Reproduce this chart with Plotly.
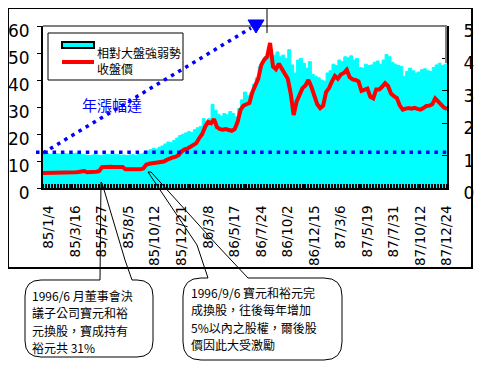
import plotly.graph_objects as go

# ---------------- data ----------------
tick_labels = ["85/1/4", "85/3/16", "85/5/27", "85/8/5", "85/10/12", "85/12/21",
               "86/3/8", "86/5/17", "86/7/24", "86/10/2", "86/12/15", "87/3/6",
               "87/5/19", "87/7/31", "87/10/12", "87/12/24"]
tick_index = [2, 11, 20, 29, 38, 47, 56, 65, 74, 83, 92, 101, 110, 119, 128, 137]

close_price = [
    5.6, 5.6, 5.5, 5.6, 5.6, 5.7, 5.6, 5.6, 5.7, 5.7,
    5.7, 5.8, 5.9, 6.0, 6.3, 5.8, 5.8, 5.9, 6.0, 6.2,
    7.7, 7.8, 8.0, 7.9, 7.8, 7.9, 7.9, 7.8, 6.9, 6.9,
    6.8, 6.9, 6.9, 6.9, 7.2, 8.6, 9.0, 9.1, 9.2, 9.3,
    9.4, 9.8, 10.4, 11.0, 11.3, 11.6, 12.2, 13.5, 14.3, 14.6,
    15.2, 15.9, 16.6, 18.5, 20.0, 22.7, 24.5, 24.0, 25.5, 22.5,
    21.8, 21.6, 21.8, 21.5, 21.2, 21.8, 24.5, 29.0, 30.5, 31.0,
    31.5, 35.5, 37.8, 40.5, 45.5, 47.5, 48.6, 53.7, 45.0, 44.0,
    46.0, 44.0, 42.5, 40.5, 35.0, 27.0, 32.0, 35.0, 37.0, 38.0,
    40.0, 37.5, 34.0, 31.0, 29.6, 30.5, 35.5, 37.0, 39.5, 41.5,
    40.5, 42.0, 42.6, 43.8, 41.0, 40.2, 40.0, 39.5, 36.0, 36.5,
    36.8, 33.8, 33.2, 36.5, 36.5, 37.5, 38.8, 37.8, 35.0, 34.0,
    33.3, 30.5, 29.0, 29.4, 29.6, 29.4, 29.7, 29.3, 29.0, 29.6,
    30.4, 30.5, 31.0, 33.2, 31.9, 30.6, 29.8, 29.3]

rel_strength = [
    1.05, 1.06, 1.04, 1.05, 1.06, 1.05, 1.04, 1.06, 1.05, 1.07,
    1.06, 1.08, 1.05, 1.03, 1.02, 1.00, 1.01, 1.03, 1.02, 1.00,
    1.02, 1.04, 1.03, 1.02, 1.04, 1.03, 1.01, 1.02, 1.00, 1.02,
    1.03, 1.01, 1.04, 1.05, 1.10, 1.14, 1.18, 1.22, 1.20, 1.26,
    1.30, 1.36, 1.42, 1.40, 1.47, 1.54, 1.62, 1.66, 1.70, 1.74,
    1.72, 1.80, 1.86, 1.90, 2.14, 2.05, 2.15, 2.58, 2.40, 2.28,
    2.22, 2.30, 2.26, 2.36, 2.30, 2.20, 2.45, 2.72, 2.96, 2.85,
    2.93, 3.20, 3.40, 3.75, 3.90, 4.05, 4.05, 3.95, 4.10, 4.20,
    4.05, 4.10, 4.00, 4.27, 3.80, 3.55, 3.95, 4.00, 3.85, 3.70,
    3.90, 3.50, 3.45, 3.40, 3.33, 3.30, 3.55, 3.62, 3.82, 3.78,
    3.95, 3.90, 4.05, 4.02, 4.08, 3.95, 4.00, 3.72, 3.70, 3.82,
    3.78, 3.80, 3.88, 3.92, 3.82, 3.95, 4.12, 4.05, 3.88, 3.82,
    3.78, 3.75, 3.45, 3.60, 3.70, 3.62, 3.55, 3.58, 3.65, 3.68,
    3.62, 3.60, 3.72, 3.80, 3.85, 3.78, 3.82, 3.88]

base_level = 1.1          # 水平基準線 (右軸)
series_names = ["相對大盤強弱勢", "收盤價"]

note1_lines = ["1996/6 月董事會決", "議子公司寶元和裕", "元換股，寶成持有", "裕元共 31%"]
note2_lines = ["1996/9/6 寶元和裕元完", "成換股，往後每年增加", "5%以內之股權，爾後股", "價因此大受激勵"]
note3 = "年漲幅達"

idx = list(range(len(close_price)))

# ---------------- geometry helpers (screen pixel -> paper) ----------------
# The page body has an 8px default margin, so the figure is drawn 8px to the
# right of / below the window origin; the figure size and margins compensate.
PAGE_OFF = 8
WIN_W, WIN_H = 484, 365
W, H = WIN_W - PAGE_OFF, WIN_H - PAGE_OFF
L, R, T, B = 43, 447, 26, 188      # plot area in window pixels


def X(p):
    return (p - L) / (R - L)


def Y(p):
    return (B - p) / (B - T)


def path(cmds):
    out = []
    for c in cmds:
        op = c[0]
        if op == "Z":
            out.append("Z")
        else:
            pts = c[1:]
            coords = " ".join(f"{X(pts[i]):.5f},{Y(pts[i+1]):.5f}" for i in range(0, len(pts), 2))
            out.append(f"{op}{coords}")
    return " ".join(out)


def pshape(d, color="black", width=1, fill="rgba(0,0,0,0)"):
    return dict(type="path", xref="paper", yref="paper", path=d,
                line=dict(color=color, width=width), fillcolor=fill)


def seg(x0, y0, x1, y1, color="black", width=1, dash="solid"):
    return dict(type="line", xref="paper", yref="paper",
                x0=X(x0), y0=Y(y0), x1=X(x1), y1=Y(y1),
                line=dict(color=color, width=width, dash=dash))


def rect(x0, y0, x1, y1, color="black", width=1, fill="rgba(0,0,0,0)"):
    return dict(type="rect", xref="paper", yref="paper",
                x0=X(x0), y0=Y(y0), x1=X(x1), y1=Y(y1),
                line=dict(color=color, width=width), fillcolor=fill)


# ---------------- figure ----------------
fig = go.Figure()
fig.add_trace(go.Scatter(
    x=idx, y=rel_strength, yaxis="y", mode="lines", name=series_names[0],
    line=dict(color="#00FFFF", width=1, shape="hv"),
    fill="tozeroy", fillcolor="#00FFFF", showlegend=False, hoverinfo="skip"))
fig.add_trace(go.Scatter(
    x=idx, y=close_price, yaxis="y2", mode="lines", name=series_names[1],
    line=dict(color="#FF0000", width=4), showlegend=False, hoverinfo="skip"))

BLUE = "#0000FF"
shapes = [
    # outer frame
    rect(8, 8, 472, 268, width=2),
    # gray top / right frame of plot area
    seg(43, 26, 447, 26, color="#808080", width=2),
    seg(446, 26, 446, 63, color="#808080", width=2),
    # legend
    rect(48, 33, 183, 80, width=1, fill="white"),
    rect(62, 42, 94, 48, width=2, fill="#00FFFF"),
    seg(62, 62, 94, 62, color="#FF0000", width=4),
    # horizontal dotted base line (right axis value)
    dict(type="line", xref="paper", yref="y", x0=X(36), x1=1.0,
         y0=base_level, y1=base_level,
         line=dict(color=BLUE, width=3.5, dash="3.5px,4.8px")),
    # diagonal dotted line
    seg(43, 153, 251, 28, color=BLUE, width=3.5, dash="3.5px,4.8px"),
    # triangle
    pshape(path([("M", 248, 20), ("L", 264, 20), ("L", 256, 33), ("Z",)]),
           color=BLUE, width=1, fill=BLUE),
    # small vertical pointer at top
    seg(267, 8, 267, 33, width=1),
    # callout bubble 1 (with tail)
    pshape(path([("M", 100, 280), ("L", 101, 182), ("L", 102, 183), ("L", 125, 260),
                 ("L", 132, 280), ("L", 137, 280), ("Q", 153, 280, 153, 296),
                 ("L", 153, 341), ("Q", 153, 357, 137, 357), ("L", 41, 357),
                 ("Q", 25, 357, 25, 341), ("L", 25, 296), ("Q", 25, 280, 41, 280),
                 ("Z",)])),
    # callout bubble 2 (with tail)
    pshape(path([("M", 208, 278), ("L", 197, 245), ("L", 148, 172), ("L", 151, 172),
                 ("L", 217, 245), ("L", 248, 278), ("L", 324, 278),
                 ("Q", 342, 278, 342, 296), ("L", 342, 342), ("Q", 342, 360, 324, 360),
                 ("L", 201, 360), ("Q", 183, 360, 183, 342), ("L", 183, 296),
                 ("Q", 183, 278, 201, 278), ("Z",)])),
]

CJK = "Noto Sans CJK TC, Noto Sans CJK SC, sans-serif"


def label(x, y, text, size=12, color="black", anchor="left"):
    return dict(xref="paper", yref="paper", x=X(x), y=Y(y), text=text,
                showarrow=False, xanchor=anchor, yanchor="middle",
                borderpad=0, borderwidth=0,
                font=dict(family=CJK, size=size, color=color))


annotations = [
    label(97, 52, series_names[0]),
    label(97, 69, series_names[1]),
    label(112, 105, note3, size=15, color=BLUE, anchor="center"),
]
for i, t in enumerate(note1_lines):
    annotations.append(label(32, 295 + 17.5 * i, t, size=12))
for i, t in enumerate(note2_lines):
    annotations.append(label(191, 292 + 17.5 * i, t, size=12))

NUMFONT = dict(family="DejaVu Sans, sans-serif", size=17, color="black")

fig.update_layout(
    width=W, height=H,
    margin=dict(l=L - PAGE_OFF, r=W - (R - PAGE_OFF), t=T - PAGE_OFF,
                b=H - (B - PAGE_OFF), pad=0, autoexpand=False),
    paper_bgcolor="white", plot_bgcolor="white",
    showlegend=False,
    xaxis=dict(range=[0, 137], tickmode="array", tickvals=tick_index, ticktext=tick_labels,
               tickangle=-90, ticks="", showline=True, linecolor="black", linewidth=2,
               showgrid=False, zeroline=False, ticklabelstandoff=10, automargin=False,
               tickfont=dict(family="DejaVu Sans, sans-serif", size=13.5, color="black"),
               minor=dict(tickmode="linear", tick0=0, dtick=1, ticks="inside", ticklen=4,
                          tickwidth=1.5, tickcolor="black", showgrid=False)),
    yaxis=dict(range=[0, 5], dtick=1, side="right", showline=True, linecolor="black",
               linewidth=2, ticks="inside", ticklen=5, tickcolor="black",
               showgrid=False, zeroline=False, tickfont=NUMFONT, automargin=False,
               ticklabelstandoff=11, ticklabelshift=5),
    yaxis2=dict(range=[0, 60], dtick=10, side="left", overlaying="y", showline=True,
                linecolor="black", linewidth=2, ticks="outside", ticklen=4,
                tickcolor="black", showgrid=False, zeroline=False, tickfont=NUMFONT,
                automargin=False, ticklabelstandoff=4, ticklabelshift=5),
    shapes=shapes,
    annotations=annotations,
)

fig.write_html("out.html")
